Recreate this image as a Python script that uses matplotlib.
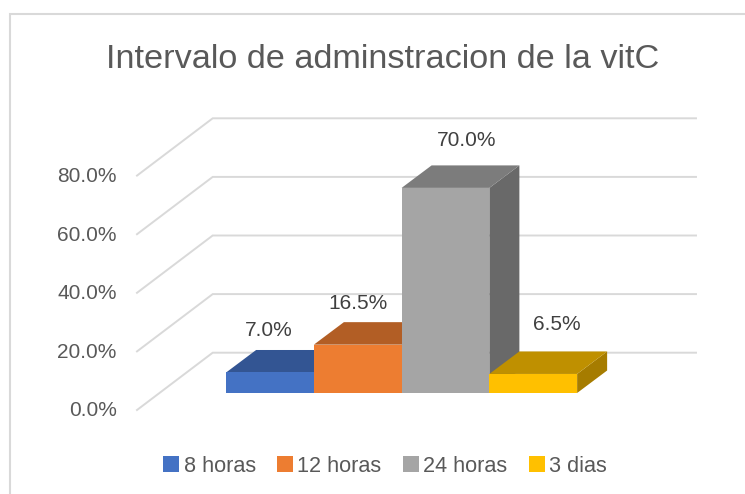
import matplotlib
matplotlib.use('Agg')
import matplotlib.pyplot as plt
from matplotlib.patches import Polygon, Patch

plt.rcParams['font.family'] = ['Liberation Sans', 'DejaVu Sans']

categories = ['8 horas', '12 horas', '24 horas', '3 dias']
values = [7.0, 16.5, 70.0, 6.5]
y_ticks = [0, 20, 40, 60, 80]
front_colors = ['#4472C4', '#ED7D31', '#A5A5A5', '#FFC000']
top_colors = ['#335593', '#B25E25', '#7C7C7C', '#BF9000']
side_colors = ['#294577', '#8F4B1E', '#696969', '#A67C00']

W, H = 745, 494
PX_X = 87.75   # pixels per category
PX_Y = 2.93    # pixels per percent
X0 = 270       # pixel of first category centre
Y0 = 393       # pixel of the bars' baseline

fig = plt.figure(figsize=(W / 100, H / 100), dpi=100)
ax = fig.add_axes([0, 0, 1, 1])
ax.set_xlim(-X0 / PX_X, (W - X0) / PX_X)
ax.set_ylim((Y0 - H) / PX_Y, Y0 / PX_Y)
ax.axis('off')

def to_x(px):
    return (px - X0) / PX_X

def to_y(px):
    return (Y0 - px) / PX_Y

# chart frame
ax.plot([to_x(9.5), to_x(9.5), to_x(745)], [to_y(494), to_y(14.5), to_y(14.5)],
        color='#D9D9D9', lw=1.5, solid_joinstyle='miter', zorder=1)

# walls: gridlines on the back and left side
wall_dx = 75.7 / PX_X
wall_dy = 57.3 / PX_Y
front_x = to_x(137)
front_y = to_y(410)
right_x = to_x(696)
for t in y_ticks:
    y = front_y + t
    ax.plot([front_x, front_x + wall_dx, right_x], [y, y + wall_dy, y + wall_dy],
            color='#D9D9D9', lw=1.4, solid_joinstyle='miter', zorder=2)
    ax.text(front_x - 20.5 / PX_X, y - 0.3, '%.1f%%' % t, ha='right', va='center',
            fontsize=15, color='#595959', zorder=5)

# bars, left to right so the right one covers the left one
depth_x = 30 / PX_X
depth_y = 22.5 / PX_Y
label_dx = [-1, 0, 21, 24]
label_dy = [19, 19, 25, 27]
for i, v in enumerate(values):
    l, r = i - 0.5, i + 0.5
    z = 10 + i
    side = Polygon([(r, 0), (r + depth_x, depth_y), (r + depth_x, v + depth_y), (r, v)],
                   closed=True, fc=side_colors[i], ec='none', zorder=z)
    top = Polygon([(l, v), (l + depth_x, v + depth_y), (r + depth_x, v + depth_y), (r, v)],
                  closed=True, fc=top_colors[i], ec='none', zorder=z)
    ax.add_patch(side)
    ax.add_patch(top)
    ax.bar(i, v, width=1, color=front_colors[i], zorder=z)
    ax.text(i + label_dx[i] / PX_X, v + depth_y + label_dy[i] / PX_Y, '%.1f%%' % v,
            ha='center', va='center', fontsize=15, color='#404040', zorder=20)

ax.text(to_x(383), to_y(59), 'Intervalo de adminstracion de la vitC', ha='center', va='center',
        fontsize=24.7, color='#595959')

handles = [Patch(fc=c, ec='none') for c in front_colors]
ax.legend(handles, categories, ncol=4, loc='center', bbox_to_anchor=(385 / W, 1 - 466 / H),
          frameon=False, fontsize=15.6, labelcolor='#595959', handlelength=0.75, handleheight=0.75,
          handletextpad=0.2, columnspacing=0.98, borderpad=0, borderaxespad=0)

fig.savefig('out.png', dpi=100)
